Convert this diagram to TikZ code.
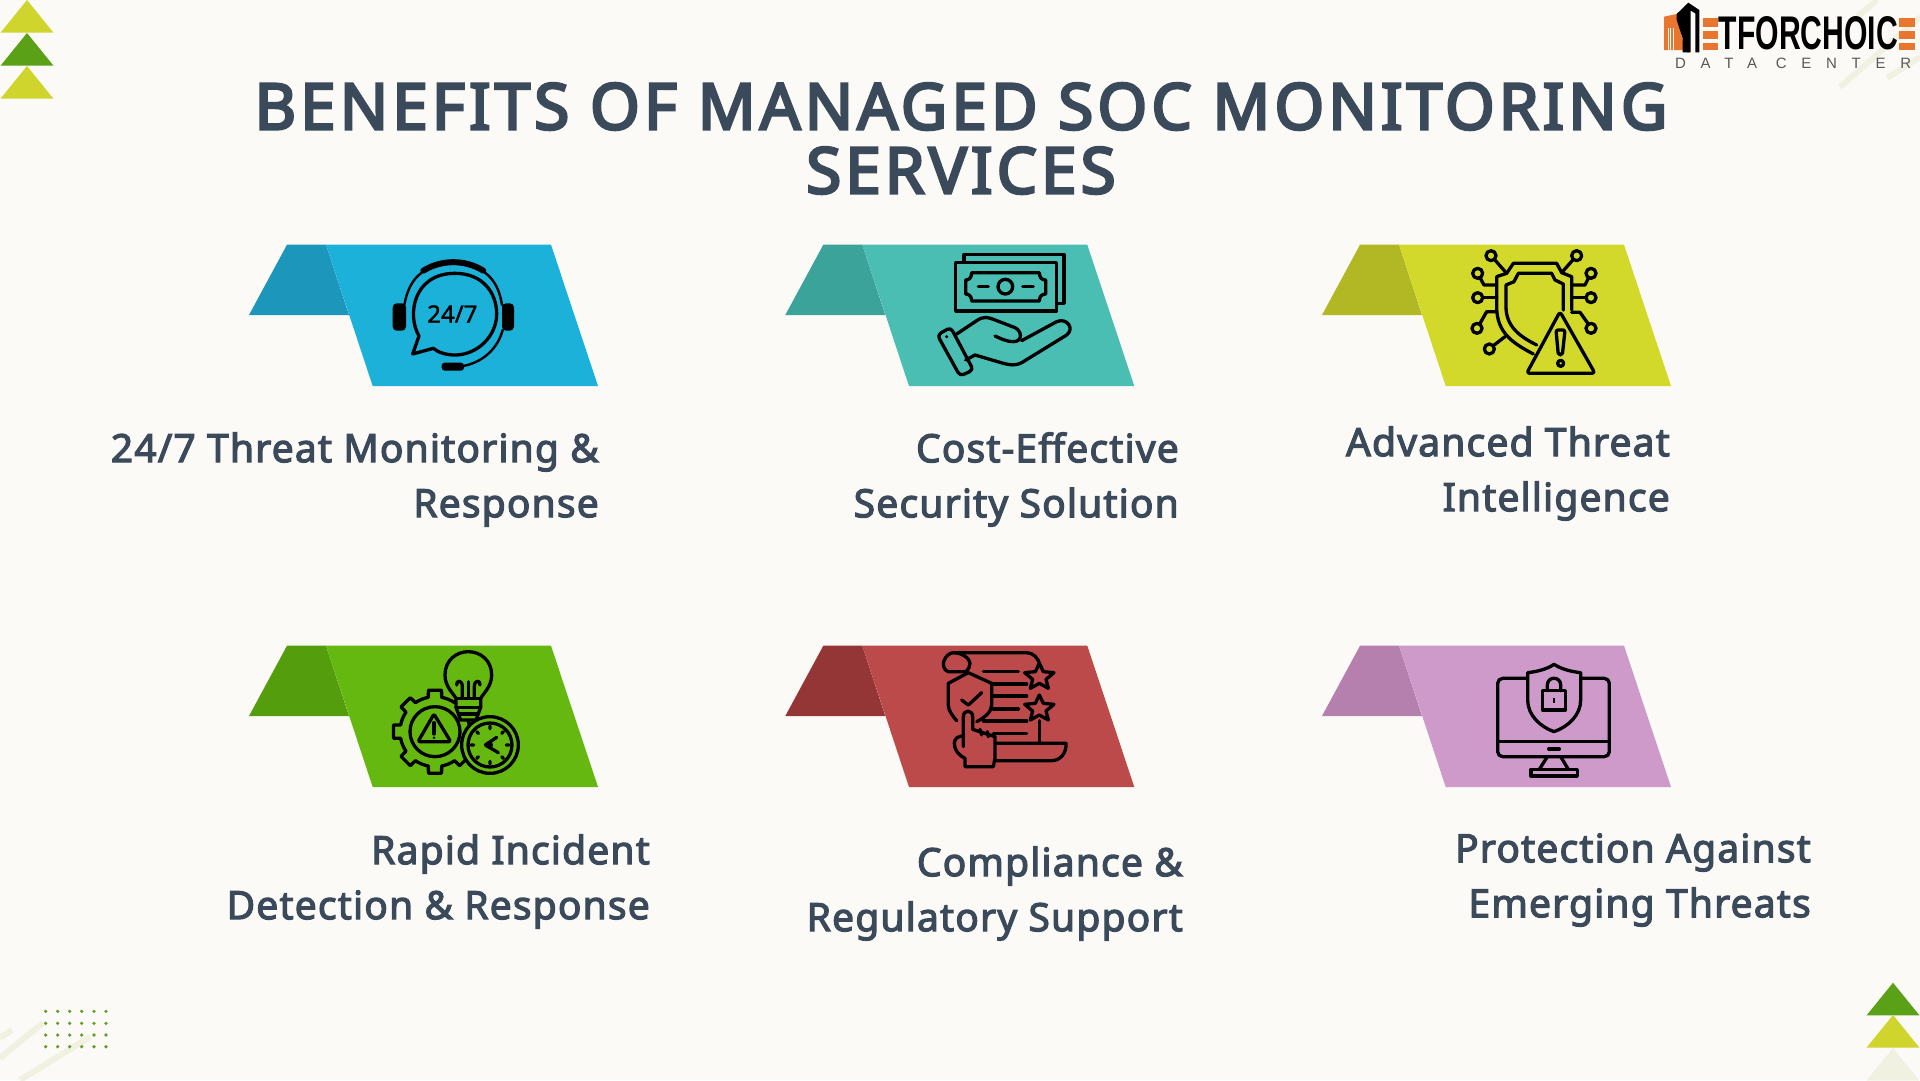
\documentclass[tikz,border=0pt]{standalone}
\usepackage{fontspec}
\setmainfont{Noto Sans}
\newfontfamily\logofont{Liberation Sans}
\newfontface\ttlfont[LetterSpace=6.2,FakeBold=4]{Noto Sans}
\newfontface\lblfont[LetterSpace=3,FakeBold=3]{Noto Sans}
\newfontface\icofont[FakeBold=1.5]{Noto Sans}
\newfontfamily\subfont[LetterSpace=98]{Liberation Sans}
\usetikzlibrary{calc}
\definecolor{bgc}{HTML}{FCFAF7}
\definecolor{ink}{HTML}{3B4A5A}
\definecolor{lime}{HTML}{CFD52C}
\definecolor{leaf}{HTML}{5AA118}
\definecolor{pale}{HTML}{F1F1E2}
\definecolor{orng}{HTML}{E8762F}
\definecolor{bluea}{HTML}{1BB1D9}\definecolor{blueb}{HTML}{1C96BA}
\definecolor{teala}{HTML}{4ABEB3}\definecolor{tealb}{HTML}{3CA39A}
\definecolor{limea}{HTML}{D2D92A}\definecolor{limeb}{HTML}{B2B824}
\definecolor{grena}{HTML}{65B80F}\definecolor{grenb}{HTML}{549E0E}
\definecolor{reda}{HTML}{BC4A4A}\definecolor{redb}{HTML}{953636}
\definecolor{pura}{HTML}{CD9ACA}\definecolor{purb}{HTML}{B580AE}
\tikzset{
  ico/.style={draw=black,line width=3.3pt,line cap=round,line join=round},
  lbl/.style={font=\lblfont\fontsize{39}{55}\selectfont,text=ink,align=right,anchor=east,inner sep=0pt},
  ttl/.style={font=\ttlfont\fontsize{64}{64}\selectfont,text=ink,align=center,inner sep=0pt},
  zoomed/.style={x=0.33333pt,y=-0.33333pt},
}
% banner: #1 dx, #2 dy, #3 main, #4 flap
\newcommand{\banner}[4]{%
  \fill[#4] (287+#1,244.7+#2) -- (326+#1,244.7+#2) -- (349+#1,315+#2) -- (249+#1,315+#2) -- cycle;
  \fill[#3] (326+#1,244.7+#2) -- (551+#1,244.7+#2) -- (598+#1,386+#2) -- (372.7+#1,386+#2) -- cycle;
}
\newcommand{\tri}[3]{\fill[#3] (#1,#2) -- (#1+26.5,#2+32.7) -- (#1-26.5,#2+32.7) -- cycle;}
\begin{document}
\begin{tikzpicture}[x=1pt,y=-1pt]
\useasboundingbox (0,0) rectangle (1920,1080);
\fill[bgc] (0,0) rectangle (1920,1080);
% faint stripes
\foreach \a/\b/\c/\d in {0/1038/12/1030, 0/1058/43/1023, 20/1080/90/1037}
  \draw[pale,line width=6pt] (\a,\b) -- (\c,\d);
\foreach \a/\b/\c/\d in {1857/17/1877/0, 1840/87/1920/17, 1887/78/1920/57}
  \draw[pale,line width=6pt] (\a,\b) -- (\c,\d);
% corner triangles
\tri{27}{0}{lime}\tri{27}{33}{leaf}\tri{27}{66}{lime}
\tri{1893}{982.7}{leaf}\tri{1893}{1015}{lime}\tri{1893}{1048}{pale}
% dots
\foreach \x in {45.7,57.7,69.7,81.7,94,106}
  \foreach \y in {1011.3,1023.3,1035,1046.7}
    \fill[leaf!85!gray] (\x,\y) circle (1.8);
% title
\node[ttl] (title) at (961,138.5) {BENEFITS OF MANAGED SOC MONITORING\\SERVICES};
% banners
\banner{0}{0}{bluea}{blueb}
\banner{536.3}{0}{teala}{tealb}
\banner{1073}{0}{limea}{limeb}
\banner{0}{401}{grena}{grenb}
\banner{536.3}{401}{reda}{redb}
\banner{1073}{401}{pura}{purb}
% labels
\node[lbl] (l1) at (599,479.5) {24/7 Threat Monitoring \&\\Response};
\node[lbl] (l2) at (1179,479.5) {Cost-Effective\\Security Solution};
\node[lbl] (l3) at (1670,473.5) {Advanced Threat\\Intelligence};
\node[lbl] (l4) at (650,881.5) {Rapid Incident\\Detection \& Response};
\node[lbl] (l5) at (1183,893.5) {Compliance \&\\Regulatory Support};
\node[lbl] (l6) at (1811,880) {Protection Against\\Emerging Threats};
% ---- icon 1
\begin{scope}[shift={(220,230)}]\begin{scope}[zoomed]
\draw[black,line width=6pt,line cap=round] (610,122) .. controls (665,88) and (735,88) .. (790,122);
\draw[ico,line width=2.4pt] (553,225) .. controls (560,185) and (575,150) .. (605,128);
\draw[ico,line width=2.4pt] (846,225) .. controls (840,185) and (825,150) .. (795,128);
\draw[ico,line width=2.4pt] (848,300) .. controls (835,350) and (795,395) .. (730,408);
\fill[black,rounded corners=4pt] (518,220) rectangle (558,302);
\fill[black,rounded corners=4pt] (846,220) rectangle (882,302);
\fill[black,rounded corners=3pt] (665,398) rectangle (732,422);
\draw[ico] (597,318) .. controls (560,255) and (580,130) .. (705,130) .. controls (790,130) and (830,190) .. (830,252) .. controls (830,320) and (770,375) .. (705,375) .. controls (680,375) and (655,368) .. (640,355) -- (578,372) -- cycle;
\node[font=\icofont\fontsize{24}{24}\selectfont,text=black,inner sep=0pt] (t247) at (697,252) {24/7};
\end{scope}\end{scope}
% ---- icon 2
\begin{scope}[shift={(780,230)}]\begin{scope}[zoomed]
\draw[ico] (552,95) -- (552,73) -- (852,73) -- (852,220) -- (830,220);
\draw[ico] (527,97) rectangle (830,243);
\draw[ico] (575,128) -- (778,128) .. controls (778,142) and (785,150) .. (797,150) -- (797,192) .. controls (785,192) and (778,200) .. (778,213) -- (575,213) .. controls (575,200) and (568,192) .. (557,192) -- (557,150) .. controls (568,150) and (575,142) .. (575,128) -- cycle;
\draw[ico] (676,170) circle (22);
\draw[ico] (595,170) -- (625,170) (728,170) -- (760,170);
\draw[ico,rounded corners=4pt] (472,315) -- (512,292) -- (580,420) -- (540,438) -- cycle;
\fill[black] (500,320) circle (5);
\draw[ico] (530,312) -- (590,272) .. controls (610,258) and (625,262) .. (640,268) -- (705,293) .. controls (725,302) and (730,335) .. (700,335) .. controls (680,335) and (660,325) .. (645,318);
\draw[ico] (725,332) -- (830,275) .. controls (860,262) and (885,295) .. (860,315) -- (725,398) .. controls (705,408) and (690,405) .. (670,400) -- (585,375) -- (557,390);
\end{scope}\end{scope}
% ---- icon 3
\begin{scope}[shift={(1310,230)}]\begin{scope}[zoomed]
\draw[ico] (670,372) .. controls (610,340) and (560,310) .. (560,230) -- (560,140) -- (590,130) -- (610,100) -- (740,100) -- (755,128) -- (785,140) -- (785,240);
\draw[ico] (680,345) .. controls (630,320) and (588,290) .. (588,230) -- (588,165) -- (612,155) -- (625,130) -- (725,130) -- (735,150) -- (760,162) -- (760,240);
\foreach \a/\b in {543/77,800/77,503/130,843/130,503/203,843/203,501/295,843/295,538/357}
  \draw[ico] (\a,\b) circle (15);
\draw[ico] (553,88) -- (590,130) (790,88) -- (755,128);
\draw[ico] (510,143) -- (522,165) -- (560,165) (836,143) -- (825,165) -- (785,165);
\draw[ico] (518,203) -- (560,203) (828,203) -- (785,203);
\draw[ico] (509,282) -- (530,245) -- (560,245) (835,282) -- (810,247) -- (785,247);
\draw[ico] (550,347) -- (585,320);
\draw[ico,fill=limea,rounded corners=3pt] (750,245) -- (855,430) -- (650,430) -- cycle;
\draw[ico,rounded corners=2pt] (738,300) -- (765,300) -- (757,375) -- (745,375) -- cycle;
\draw[ico] (752,400) circle (9);
\end{scope}\end{scope}
% ---- icon 4
\begin{scope}[shift={(220,630)}]\begin{scope}[zoomed]
\foreach \k in {0,45,...,315}{
  \pgfmathsetmacro{\aa}{\k-11}\pgfmathsetmacro{\bb}{\k+11}\pgfmathsetmacro{\cc}{\k+34}
  \draw[ico] ([shift={(\aa:105)}]645,305) -- ([shift={(\aa+2:126)}]645,305) -- ([shift={(\bb-2:126)}]645,305) -- ([shift={(\bb:105)}]645,305) arc[start angle=\bb,end angle=\cc,radius=105];
}
\draw[ico] (645,305) circle (75);
\draw[ico,fill=grena,rounded corners=2pt] (642,252) -- (692,335) -- (594,335) -- cycle;
\draw[ico] (642,278) -- (642,312);
\fill[black] (642,323) circle (4);
\draw[ico,fill=grena] (708,232) -- (708,205) .. controls (700,190) and (675,170) .. (675,135) .. controls (675,90) and (710,65) .. (745,65) .. controls (780,65) and (815,90) .. (815,135) .. controls (815,170) and (790,190) .. (782,205) -- (782,232) -- (768,270) -- (722,270) -- cycle;
\draw[ico] (708,205) -- (782,205) (708,232) -- (782,232) (720,252) -- (772,252);
\draw[ico] (727,205) -- (727,170) .. controls (727,148) and (708,150) .. (710,165);
\draw[ico] (763,205) -- (763,170) .. controls (763,148) and (782,150) .. (780,165);
\draw[ico] (745,205) -- (745,155);
\draw[ico,fill=grena] (810,345) circle (85);
\draw[ico] (810,345) circle (66);
\draw[ico] (796,345) -- (830,322) (796,345) -- (835,368);
\draw[ico] (808,345) circle (6);
\draw[ico] (810,288) -- (810,296) (810,394) -- (810,402) (753,345) -- (761,345) (859,345) -- (867,345) (770,305) -- (775,310) (850,305) -- (845,310) (770,385) -- (775,380) (850,385) -- (845,380);
\end{scope}\end{scope}
% ---- icon 5
\begin{scope}[shift={(780,630)}]\begin{scope}[zoomed]
\draw[ico] (520,68) -- (740,68) .. controls (760,68) and (775,85) .. (780,105);
\draw[ico] (520,68) .. controls (545,68) and (570,85) .. (570,100) .. controls (570,110) and (565,118) .. (558,125) -- (505,125) .. controls (490,122) and (488,100) .. (492,92) .. controls (497,78) and (510,68) .. (520,68) -- cycle;
\draw[ico] (610,125) -- (715,125) (640,162) -- (740,162) (640,198) -- (740,198) (640,237) -- (715,237) (610,273) -- (740,273) (640,310) -- (740,310);
\foreach \cy in {140,235}{
  \draw[ico,fill=reda] (778,\cy-40) -- (790,\cy-15) -- (822,\cy-12) -- (798,\cy+8) -- (805,\cy+35) -- (778,\cy+20) -- (751,\cy+35) -- (758,\cy+8) -- (734,\cy-12) -- (766,\cy-15) -- cycle;
}
\draw[ico] (778,272) -- (778,340);
\draw[ico] (650,340) -- (858,340) .. controls (860,370) and (840,392) .. (815,392) -- (650,392);
\draw[ico] (530,272) .. controls (515,255) and (505,240) .. (505,225) -- (505,160) -- (565,128) -- (635,160) -- (635,225) .. controls (635,245) and (615,262) .. (590,275);
\draw[ico] (545,210) -- (565,225) -- (605,188);
\draw[ico,fill=reda] (550,320) -- (550,260) .. controls (550,238) and (578,238) .. (578,260) -- (578,298) -- (645,320) -- (645,385) -- (640,410) -- (555,410) -- (555,385) .. controls (535,375) and (523,360) .. (523,340) .. controls (523,325) and (535,318) .. (550,318);
\draw[ico] (600,298) -- (605,315) (622,305) -- (625,320) (550,318) -- (550,350);
\end{scope}\end{scope}
% ---- icon 6
\begin{scope}[shift={(1310,630)}]\begin{scope}[zoomed]
\draw[ico,rounded corners=5pt] (652,145) -- (563,145) -- (563,380) -- (898,380) -- (898,145) -- (812,145);
\draw[ico] (563,335) -- (898,335) (716,357) -- (748,357);
\draw[ico] (712,380) -- (688,418) (752,380) -- (775,418);
\draw[ico] (663,418) rectangle (802,438);
\draw[ico] (732,103) .. controls (710,118) and (680,125) .. (653,128) -- (653,210) .. controls (653,255) and (690,290) .. (732,305) .. controls (775,290) and (812,255) .. (812,210) -- (812,128) .. controls (785,125) and (755,118) .. (732,103) -- cycle;
\draw[ico] (697,182) rectangle (767,240);
\draw[ico] (712,182) -- (712,165) .. controls (712,138) and (752,138) .. (752,165) -- (752,182);
\fill[black] (728,203) rectangle (736,220);
\end{scope}\end{scope}
% ---- logo
\begin{scope}[shift={(1640,0)}]\begin{scope}[zoomed]
\fill[orng] (72,50) -- (110,42) -- (135,150) -- (72,150) -- cycle;
\foreach \x in {84,92,100} \draw[bgc,line width=.5pt] (\x,85) -- (\x,150);
\fill[black] (110,42) -- (145,8) -- (178,30) -- (178,157) -- (166,157) -- (166,40) -- (152,32) -- (152,157) -- (142,157) -- (110,60) -- cycle;
\fill[black] (128,115) -- (146,157) -- (128,157) -- cycle;
\foreach \y/\h in {55/25,92/25,128/23}{
  \fill[orng] (190,\y) rectangle (235,\y+\h);
  \fill[orng] (777,\y) rectangle (825,\y+\h);
}
\node[font=\logofont\bfseries\fontsize{45}{45}\selectfont,text=black,inner sep=0pt,xscale=0.67,yscale=1.05,anchor=center] (logoname) at (505,100) {TFORCHOIC};
\node[font=\subfont\fontsize{15}{15}\selectfont,text=black!65,inner sep=0pt,anchor=base west] (logosub) at (105,205) {DATA CENTER};
\end{scope}\end{scope}
\end{tikzpicture}
\end{document}
